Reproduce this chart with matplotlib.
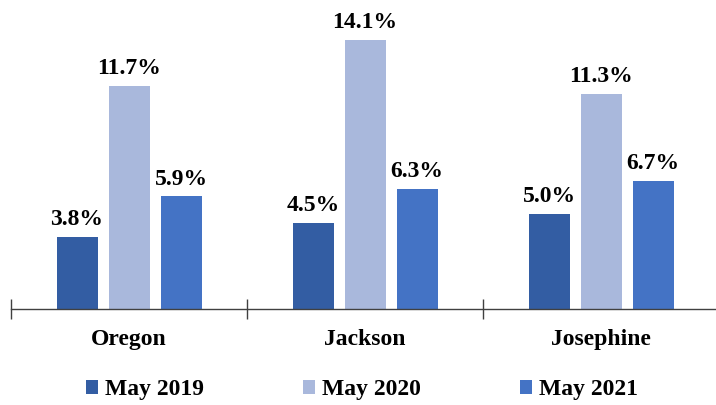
import matplotlib
matplotlib.use("Agg")
import matplotlib.pyplot as plt
import numpy as np

categories = ["Oregon", "Jackson", "Josephine"]
series_names = ["May 2019", "May 2020", "May 2021"]
may2019 = [3.8, 4.5, 5.0]
may2020 = [11.7, 14.1, 11.3]
may2021 = [5.9, 6.3, 6.7]
colors = ["#335DA3", "#A9B8DC", "#4473C5"]

plt.rcParams['font.family'] = ['Liberation Serif', 'DejaVu Serif']
plt.rcParams['font.weight'] = 'bold'

fig = plt.figure(figsize=(7.16, 4.05), dpi=100)
# axes from x=11 to 719 px, y baseline 309 px, top 0 px
ax = fig.add_axes([11/716, (405-309)/405, 708/716, 309/405])

x = np.arange(len(categories))
bw = 41/236
step = 52/236
for i, (vals, name, c) in enumerate(zip([may2019, may2020, may2021], series_names, colors)):
    pos = x + (i - 1) * step
    bars = ax.bar(pos, vals, width=bw, color=c, label=name)
    for b, v in zip(bars, vals):
        ax.annotate(f"{v:.1f}%", (b.get_x() + b.get_width()/2, v),
                    xytext=(0, 5), textcoords="offset points",
                    ha="center", va="bottom", fontsize=17, fontweight="bold")

ax.set_xlim(-0.5, 2.5)
ax.set_ylim(0, 309/19.07)
for s in ["top", "right", "left"]:
    ax.spines[s].set_visible(False)
ax.spines["bottom"].set_color("#404040")
ax.spines["bottom"].set_linewidth(1.0)
ax.set_yticks([])
ax.set_xticks([-0.5, 0.5, 1.5, 2.5])
ax.set_xticklabels([])
ax.tick_params(axis="x", direction="inout", length=14, width=1, color="#404040")
for xi, cat in zip(x, categories):
    ax.text(xi, -0.065, cat, transform=ax.get_xaxis_transform(), ha="center", va="top",
            fontsize=17, fontweight="bold")

fig.legend(loc="center", bbox_to_anchor=(362/716, 1 - 390/405), ncol=3, frameon=False,
           handlelength=0.5, handleheight=0.5, handletextpad=0.3,
           columnspacing=4.2, prop={'weight': 'bold', 'size': 17})

fig.savefig("out.png", dpi=100)
